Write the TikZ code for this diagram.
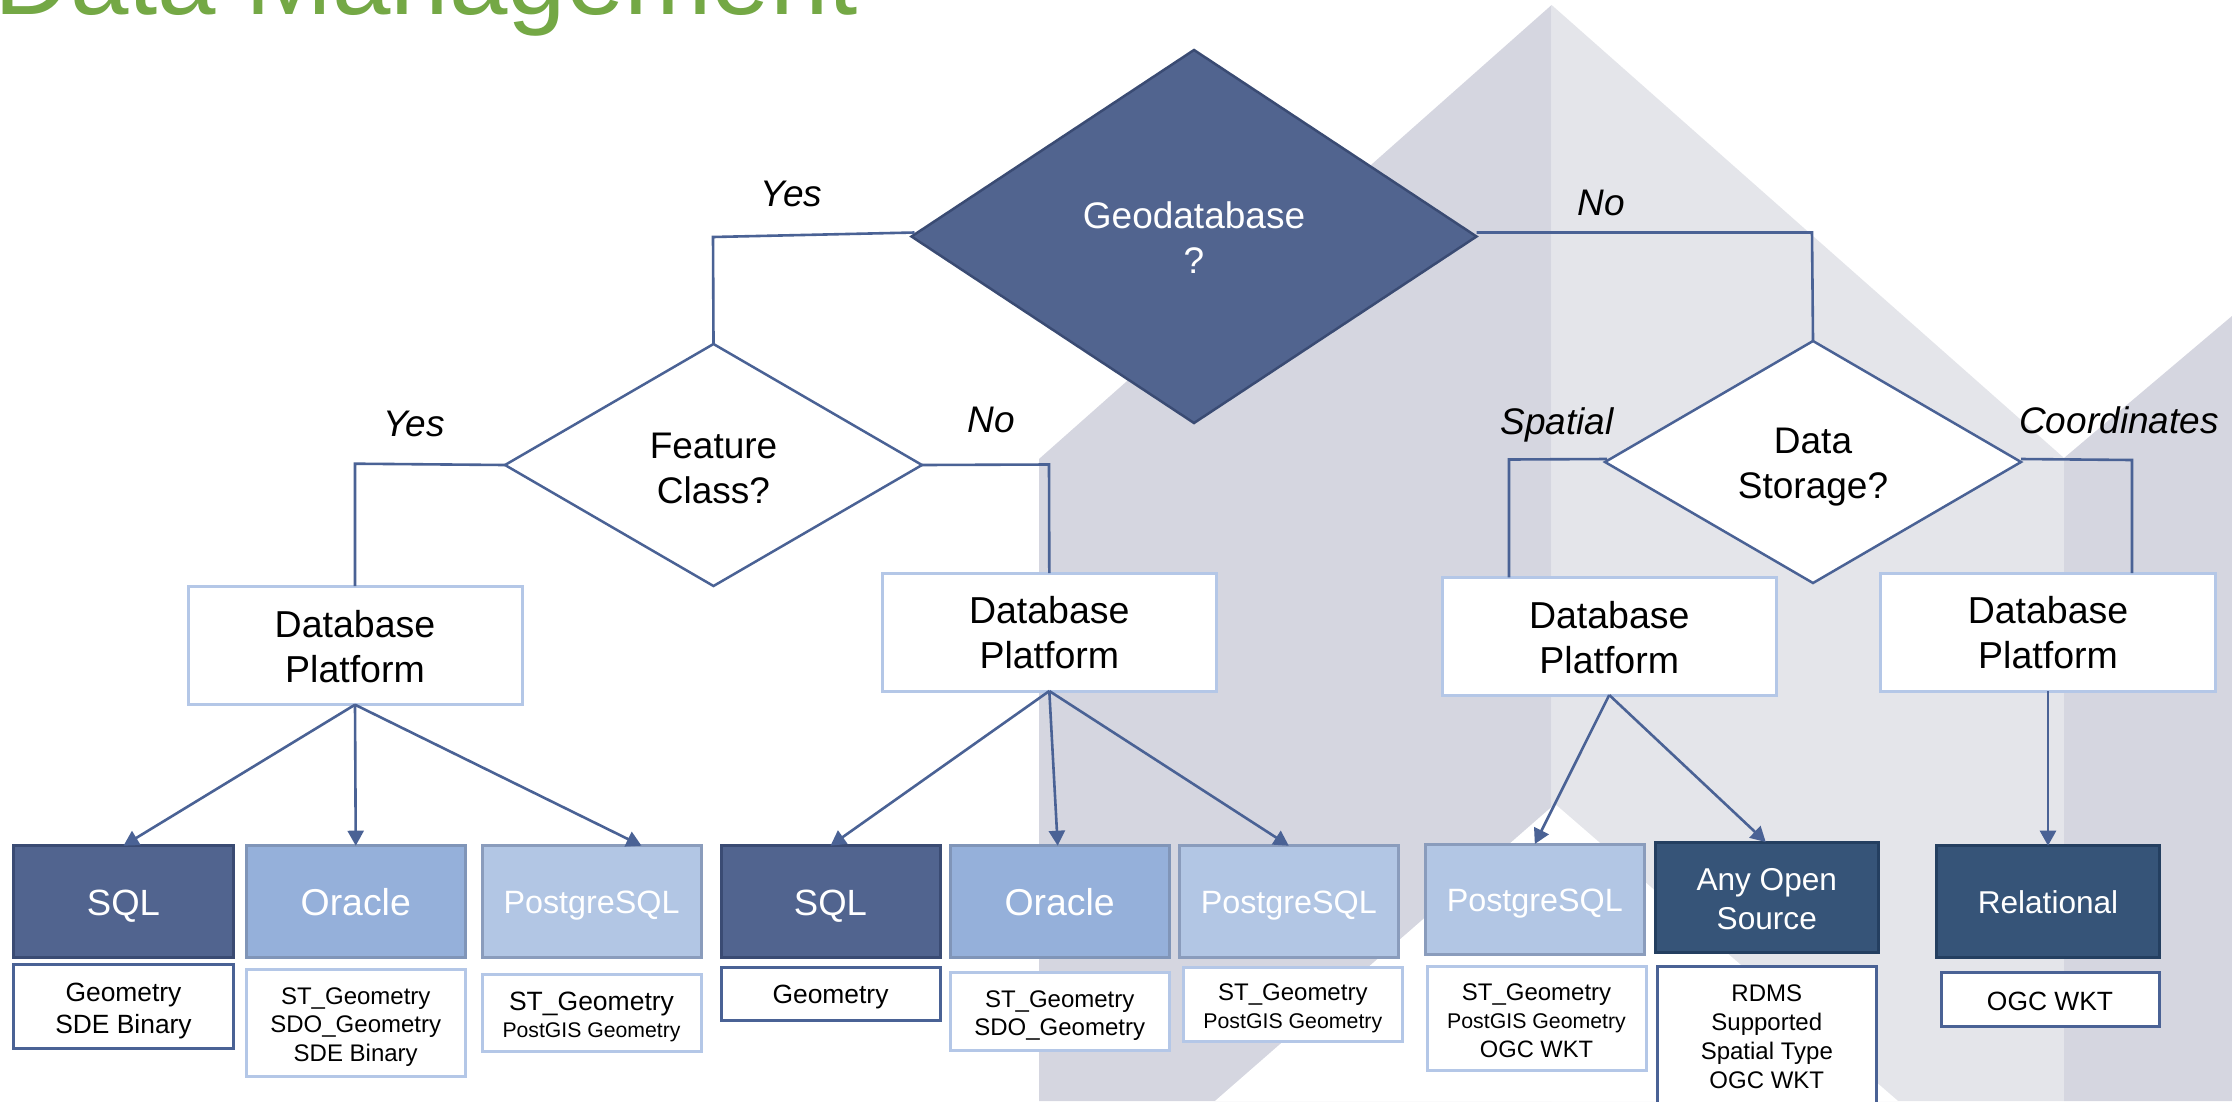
\documentclass[tikz,border=0pt]{standalone}
\usepackage{fontspec}
\setmainfont{Liberation Sans}
\usetikzlibrary{shapes.geometric,arrows.meta}
\newcommand\fs[2]{\fontsize{#1}{#2}\selectfont}
\newcommand\tp[1]{\rule{0pt}{#1pt}}
\definecolor{linec}{HTML}{4A6295}
\definecolor{darkfill}{HTML}{51648F}
\definecolor{darkedge}{HTML}{3A4B73}
\definecolor{midfill}{HTML}{95B0DA}
\definecolor{midedge}{HTML}{8095B8}
\definecolor{palefill}{HTML}{B2C6E4}
\definecolor{paleedge}{HTML}{8A9CBC}
\definecolor{navyfill}{HTML}{365478}
\definecolor{navyedge}{HTML}{243F60}
\definecolor{lightedge}{HTML}{B4C7E7}
\definecolor{titlegreen}{HTML}{74A845}
\definecolor{bgdark}{HTML}{D5D6E0}
\definecolor{bglight}{HTML}{E4E5EA}
\tikzset{
  x=1pt,y=-1pt,
  box/.style={rectangle,inner sep=0pt,outer sep=0pt,align=center,line width=3pt},
  dbbox/.style={box,draw=lightedge,fill=white,font=\fs{37.5}{45}},
  sqlbox/.style={box,draw=darkedge,fill=darkfill,text=white,font=\fs{36.5}{45},text height=28pt,text depth=0pt},
  orabox/.style={box,draw=midedge,fill=midfill,text=white,font=\fs{37.4}{45},text height=28pt,text depth=0pt},
  pgbox/.style={box,draw=paleedge,fill=palefill,text=white,font=\fs{32.3}{39},text height=24pt,text depth=0pt},
  navybox/.style={box,draw=navyedge,fill=navyfill,text=white,font=\fs{31.6}{38.6}},
  infodark/.style={box,draw=linec,fill=white,font=\fs{26.4}{32}},
  infolight/.style={box,draw=lightedge,fill=white,font=\fs{24}{28.5}},
  decision/.style={diamond,draw=linec,fill=white,line width=2.5pt,inner sep=0pt,outer sep=0pt,align=center,font=\fs{37}{45}},
  geodec/.style={decision,draw=darkedge,fill=darkfill,text=white},
  branch/.style={font=\fs{37}{44}\itshape},
  link/.style={draw=linec,line width=2.6pt},
  arrow/.style={link,-{Triangle[length=15pt,width=16pt]}}
}
% name, style, x1, y1, x2, y2, text
\newcommand\bx[7]{\node[#2,minimum width={#5-#3},minimum height={#6-#4}] (#1) at ({(#3+#5)/2},{(#4+#6)/2}) {#7};}
\begin{document}
\begin{tikzpicture}
\useasboundingbox (0,0) rectangle (2232,1101);
\clip (0,0) rectangle (2232,1101);
\fill[white] (0,0) rectangle (2232,1101);
% background
\fill[bgdark] (1551.6,5) -- (1039,459) -- (1039,1101) -- (1551.6,1101) -- cycle;
\fill[bglight] (1551.6,5) -- (2064,458) -- (2064,1101) -- (1551.6,1101) -- cycle;
\fill[bgdark] (2064,458) -- (2232,316) -- (2232,1101) -- (2064,1101) -- cycle;
\fill[white] (1555,804) -- (1215,1101) -- (1898,1101) -- cycle;
% title
\node[anchor=base west,inner sep=0pt,text=titlegreen,font=\fs{105}{110}] (title) at (-6,14) {Data Management};
% decisions
\node[geodec,minimum width=565,minimum height=373,aspect=1.515] (geo) at (1194,236.5) {\tp{29}Geodatabase\\?};
\node[decision,minimum width=417,minimum height=242,aspect=1.72] (fc) at (713.5,465) {\tp{33}Feature\\Class?};
\node[decision,minimum width=416,minimum height=242,aspect=1.72] (ds) at (1813,462) {\tp{35}Data\\Storage?};
% database platform boxes
\bx{dbA}{dbbox}{188}{586}{522}{704.7}{\tp{29}Database\\Platform}
\bx{dbB}{dbbox}{882.6}{573}{1216}{691}{\tp{29}Database\\Platform}
\bx{dbC}{dbbox}{1442}{577.4}{1776.5}{695}{\tp{29}Database\\Platform}
\bx{dbD}{dbbox}{1880.4}{573}{2215.6}{691}{\tp{29}Database\\Platform}
% platform boxes
\bx{sqlA}{sqlbox}{13.5}{845.7}{233.5}{957}{SQL}
\bx{oraA}{orabox}{246}{845.7}{465.5}{957}{Oracle}
\bx{pgA}{pgbox}{482}{845.7}{701}{957}{PostgreSQL}
\bx{sqlB}{sqlbox}{721}{845.7}{940}{957}{SQL}
\bx{oraB}{orabox}{950}{845.7}{1169.4}{957}{Oracle}
\bx{pgB}{pgbox}{1179}{845.7}{1398.6}{957}{PostgreSQL}
\bx{pgC}{pgbox}{1425.6}{844}{1644}{954}{PostgreSQL}
\bx{anyC}{navybox}{1655.5}{842}{1878}{952}{\tp{26}Any Open\\Source}
\bx{relD}{navybox,text height=24pt,text depth=0pt}{1936.6}{845.7}{2159.4}{957}{Relational}
% info boxes
\bx{infoA}{infodark}{13.5}{964}{233.5}{1048}{\tp{27.5}Geometry\\SDE Binary}
\bx{infoB}{infolight}{246}{969.5}{465.5}{1076}{\tp{24.5}ST\_Geometry\\SDO\_Geometry\\SDE Binary}
\bx{infoC}{infolight,font=\fs{26.5}{27.5}}{482}{974}{701}{1051.6}{\tp{27}ST\_Geometry\\\fs{21.2}{27.5}PostGIS Geometry}
\bx{infoD}{infodark}{721}{967.4}{940}{1020.7}{\tp{25}Geometry}
\bx{infoE}{infolight}{950}{972.7}{1169.4}{1050.5}{\tp{24.3}ST\_Geometry\\SDO\_Geometry}
\bx{infoF}{infolight}{1183.6}{967.4}{1402}{1041.8}{\tp{24.3}ST\_Geometry\\\fs{21.3}{28.5}PostGIS Geometry}
\bx{infoG}{infolight}{1427}{966.7}{1646}{1070}{\tp{21.3}ST\_Geometry\\\fs{21.3}{26.5}PostGIS Geometry\\\fs{23.7}{28.5}OGC WKT}
\bx{infoH}{infodark,font=\fs{24}{28.8}}{1657.6}{966}{1876}{1104}{\tp{20}RDMS\\Supported\\Spatial Type\\OGC WKT}
\bx{infoI}{infodark}{1941}{972.3}{2159}{1026.3}{\tp{22}OGC WKT}
% elbow corners
\coordinate (cYes) at (713,237);
\coordinate (cFcYes) at (355,463.7);
\coordinate (cFcNo) at (1049,464.5);
\coordinate (cNo) at (1812,232.5);
\coordinate (cSpatial) at (1509,459.5);
\coordinate (cCoord) at (2132,460);
% elbow connectors
\draw[link] ([xshift=3pt,yshift=4pt]geo.west) -- (cYes) -- (fc.north);
\draw[link] ([yshift=4pt]geo.east) -- (cNo) -- (ds.north);
\draw[link] (fc.west) -- (cFcYes) -- (dbA.north);
\draw[link] (fc.east) -- (cFcNo) -- (dbB.north);
\draw[link] ([xshift=2pt,yshift=3pt]ds.west) -- (cSpatial) -- (cSpatial |- dbC.north);
\draw[link] ([yshift=3pt]ds.east) -- (cCoord) -- (cCoord |- dbD.north);
% arrows
\draw[arrow] (dbA.south) -- (sqlA.north);
\draw[arrow] (dbA.south) -- (oraA.north);
\draw[arrow] (dbA.south) -- ([xshift=50pt]pgA.north);
\draw[arrow] (dbB.south) -- (sqlB.north);
\draw[arrow] (dbB.south) -- ([xshift=-2pt]oraB.north);
\draw[arrow] (dbB.south) -- (pgB.north);
\draw[arrow] (dbC.south) -- (pgC.north);
\draw[arrow] (dbC.south) -- ([xshift=-1pt]anyC.north);
\draw[arrow] (dbD.south) -- (relD.north);
% branch labels
\node[branch] (lYesA) at (791.5,194) {Yes};
\node[branch] (lYesB) at (414,424) {Yes};
\node[branch] (lNoA) at (991,420) {No};
\node[branch] (lNoB) at (1601,203) {No};
\node[branch] (lSpatial) at (1557,425) {Spatial};
\node[branch] (lCoord) at (2119,420) {Coordinates};
\end{tikzpicture}
\end{document}
